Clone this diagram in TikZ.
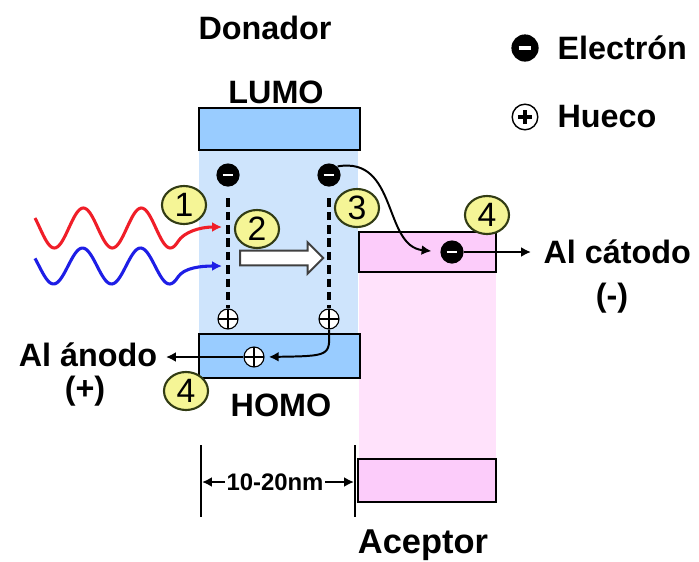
\documentclass[tikz,border=0pt]{standalone}
\usepackage{fontspec}
\setmainfont{Liberation Sans}
\usetikzlibrary{arrows.meta,shapes.arrows,shapes.geometric}

\definecolor{lumoblue}{RGB}{153,204,255}
\definecolor{paleblue}{RGB}{206,228,252}
\definecolor{pinkbox}{RGB}{252,204,250}
\definecolor{palepink}{RGB}{255,226,251}
\definecolor{numyellow}{RGB}{245,245,150}
\definecolor{numrim}{RGB}{50,60,20}
\definecolor{wavered}{RGB}{240,30,40}
\definecolor{waveblue}{RGB}{30,30,230}

\tikzset{
  lbl/.style={font=\fontsize{23}{26}\selectfont\bfseries, inner sep=0pt},
  box/.style={draw=black, line width=2.1pt},
  elec/.style={circle, fill=black, minimum size=0.58cm, inner sep=0pt,
    path picture={\draw[white, line width=2pt]
      ([xshift=-3.8pt]path picture bounding box.center) -- ([xshift=3.8pt]path picture bounding box.center);}},
  hole/.style={circle, draw=black, fill=white, line width=0.8pt, minimum size=0.5cm, inner sep=0pt,
    path picture={\draw[line width=0.8pt]
      (path picture bounding box.north) -- (path picture bounding box.south)
      (path picture bounding box.west) -- (path picture bounding box.east);}},
  num/.style={ellipse, draw=numrim, fill=numyellow, line width=1.5pt, minimum width=1.1cm,
    minimum height=0.95cm, inner sep=0pt, font=\fontsize{24}{26}\selectfont},
  splitline/.style={line width=2.4pt, dash pattern=on 6pt off 3.5pt},
  move/.style={-{Latex[length=7pt,width=7pt]}, line width=1.4pt}
}

\begin{document}
\begin{tikzpicture}[x=0.025cm, y=-0.025cm, >=Latex, thick]
    \useasboundingbox (0,0) rectangle (699,561);

    % Donor and acceptor columns
    \fill[paleblue] (199,150) rectangle (358,334);
    \fill[palepink] (359,272) rectangle (496,459);

    % Levels
    \draw[box, fill=lumoblue] (199,108) rectangle (360,150);
    \draw[box, fill=lumoblue] (199,334) rectangle (360,378);
    \draw[box, fill=pinkbox] (359,232) rectangle (496,272);
    \draw[box, fill=pinkbox] (358,459) rectangle (496,502);

    % Titles
    \node[lbl] (donor) at (265,28) {Donador};
    \node[lbl] (lumo) at (276,92) {LUMO};
    \node[lbl] (homo) at (281,405) {HOMO};
    \node[lbl, font=\fontsize{24.5}{27}\selectfont\bfseries] (acceptor) at (423,545) {Aceptor};

    % Legend
    \node[elec, minimum size=0.68cm,
      path picture={\draw[white, line width=3pt]
        ([xshift=-4.5pt]path picture bounding box.center) -- ([xshift=4.5pt]path picture bounding box.center);}]
      (legE) at (525,48) {};
    \node[lbl, anchor=west] (legEtxt) at (557,48) {Electrón};
    \node[circle, draw=black, fill=white, line width=1pt, minimum size=0.64cm, inner sep=0pt,
      path picture={\draw[line width=2.2pt]
        ([xshift=-5pt]path picture bounding box.center) -- ([xshift=5pt]path picture bounding box.center)
        ([yshift=-5pt]path picture bounding box.center) -- ([yshift=5pt]path picture bounding box.center);}]
      (legH) at (525,117) {};
    \node[lbl, anchor=west] (legHtxt) at (557,117) {Hueco};

    % Charges
    \node[elec] (e1) at (228,175) {};
    \node[elec] (e2) at (329,175) {};
    \node[hole] (h1) at (228,319) {};
    \node[hole] (h2) at (329,319) {};
    \node[elec] (e3) at (452,252) {};
    \node[hole] (h3) at (254,357) {};

    % Exciton splitting
    \draw[splitline] ([yshift=-8pt]e1.south) -- (h1.north);
    \draw[splitline] ([yshift=-8pt]e2.south) -- (h2.north);
    \node[single arrow, draw=black!75, fill=white, line width=1.4pt, minimum height=2.08cm,
      inner xsep=0pt, inner ysep=0.16cm, single arrow head extend=0.21cm] (drift) at (278,258) {};

    % Light
    \coordinate (redend) at (222,227);
    \coordinate (blueend) at (222,266);
    \draw[wavered, line width=2.2pt, -{Latex[length=7pt,width=7pt]}] plot[domain=35:178, samples=90, smooth]
      (\x, {228+20*sin(6.2069*(\x-35)-30)}) .. controls (184,232) and (200,227) .. (redend);
    \draw[waveblue, line width=2.2pt, -{Latex[length=7pt,width=7pt]}] plot[domain=35:178, samples=90, smooth]
      (\x, {266+18*sin(6.2069*(\x-35)-25)}) .. controls (184,268) and (200,266) .. (blueend);

    % Transfer and collection
    \draw[move, shorten >=6pt] (e2.north east) .. controls (398,156) and (383,246) .. (e3.west);
    \coordinate (cathode) at (531,252);
    \draw[move] (e3.east) -- (cathode);
    \draw[move, shorten >=3pt] (h2.south) .. controls (330,356) .. (h3.east);
    \coordinate (anode) at (166,357);
    \draw[move] (h3.west) -- (anode);
    \node[lbl, anchor=west] (cat) at (543,252) {Al cátodo};
    \node[lbl] (catsign) at (612,298) {(-)};
    \node[lbl] (ano) at (88,355) {Al ánodo};
    \node[lbl] (anosign) at (85,391) {(+)};

    % Steps
    \node[num] (s1) at (184,205) {1};
    \node[num] (s2) at (257,229) {2};
    \node[num] (s3) at (357,208) {3};
    \node[num] (s4a) at (487,215) {4};
    \node[num] (s4h) at (186,391) {4};

    % Distance
    \draw[line width=1.4pt] (201,445) -- (201,517);
    \draw[line width=1.4pt] (355,445) -- (355,517);
    \node[font=\fontsize{17}{20}\selectfont\bfseries, inner sep=1pt] (dist) at (275,482) {10-20nm};
    \coordinate (dl) at (202,482);
    \coordinate (dr) at (354,482);
    \draw[move] (dist.west) -- (dl);
    \draw[move] (dist.east) -- (dr);
\end{tikzpicture}
\end{document}
